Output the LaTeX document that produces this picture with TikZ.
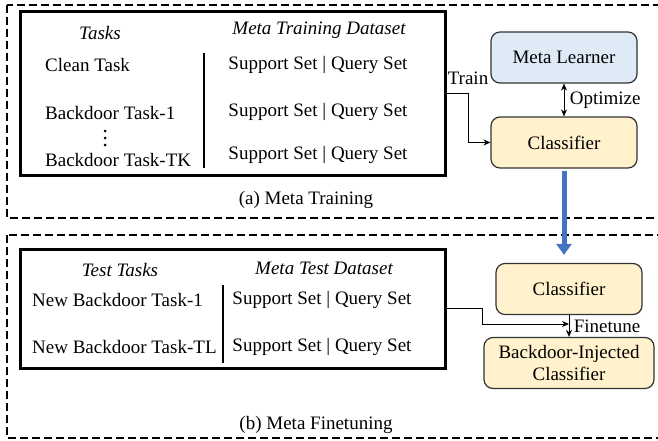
\documentclass[tikz,border=0pt]{standalone}
\usepackage{fontspec}
\setmainfont{Liberation Serif}
\usetikzlibrary{positioning,arrows.meta}
\definecolor{learnerblue}{HTML}{DEEBF7}
\definecolor{clfyellow}{HTML}{FFF2CC}
\definecolor{flowblue}{HTML}{4472C4}

\tikzset{
  phase/.style={draw, line width=2pt, dash pattern=on 8pt off 4pt},
  taskbox/.style={draw, line width=3pt, minimum width=425pt},
  model/.style={draw=black!80, line width=1.2pt, rounded corners=9pt,
    minimum height=51pt, align=center},
  taskrow/.style={anchor=west, inner sep=0pt},
  heading/.style={font=\fontsize{19}{22}\selectfont\itshape},
}

\begin{document}
\begin{tikzpicture}[x=1pt,y=-1pt,font=\fontsize{19}{22}\selectfont,
    >={Stealth[length=7pt,width=6pt]}]
\useasboundingbox (0,0) rectangle (658,441);

% (a) meta training
\draw[phase] (7,5) rectangle (661,218);
\node[taskbox, minimum height=163pt] (trainset) at (232.5,93.5) {};
\node[heading] (tasks) at (100,33) {Tasks};
\node[heading] (trainhead) at (319,30) {Meta Training Dataset};
\node[taskrow] (clean) at (45,65) {Clean Task};
\node[taskrow] (bd1) at (45,113) {Backdoor Task-1};
\coordinate (dots) at (105,138);
\foreach \dy in {-7,0,7}
  \fill (dots) ++(0,\dy) circle (1.5pt);
\node[taskrow] (bdtk) at (45,160) {Backdoor Task-TK};
\draw[line width=1.2pt] (204,53) -- (204,168);
\node (set1) at (318,65) {Support Set | Query Set};
\node (set2) at (318,112) {Support Set | Query Set};
\node (set3) at (318,155) {Support Set | Query Set};
\node (phasea) at (306,200) {(a) Meta Training};

\node[model, fill=learnerblue, minimum width=146pt] (learner) at (564,57.5) {Meta Learner};
\node[model, fill=clfyellow, minimum width=146pt] (clf) at (564,142.5) {Classifier};
\draw[->, line width=1pt] (trainset.east) -- ++(22,0) |- (clf.west);
\node (trainlbl) at (468,78) {Train};
\draw[<->, line width=1pt] (learner) -- node[right=2pt] {Optimize} (clf);

% (b) meta finetuning
\draw[phase] (7,235) rectangle (661,438);
\node[taskbox, minimum height=119pt] (testset) at (232.5,308.5) {};
\node[heading] (testtasks) at (120,270) {Test Tasks};
\node[heading] (testhead) at (324,268) {Meta Test Dataset};
\node[taskrow] (nbd1) at (32,300) {New Backdoor Task-1};
\node[taskrow] (nbdtl) at (32,347) {New Backdoor Task-TL};
\draw[line width=1.2pt] (223,285) -- (223,363);
\node (set4) at (322,300) {Support Set | Query Set};
\node (set5) at (322,347) {Support Set | Query Set};
\node (phaseb) at (316,425) {(b) Meta Finetuning};

\node[model, fill=clfyellow, minimum width=146pt] (clf2) at (569,289) {Classifier};
\node[model, fill=clfyellow, minimum width=170pt] (injected) at (569,363)
  {Backdoor-Injected\\Classifier};
\coordinate (ftjoin) at (clf2.south |- 0,324);
\draw[->, line width=1pt] (testset.east) -- ++(36,0) |- (ftjoin);
\draw[->, line width=1pt] (clf2) -- node[right=1pt] {Finetune} (injected);

% hand-over between the phases
\draw[flowblue, line width=5pt, shorten <=2pt, shorten >=8pt,
  -{Triangle[width=15pt,length=11pt]}] (clf.south) -- (clf.south |- clf2.north);
\end{tikzpicture}
\end{document}
